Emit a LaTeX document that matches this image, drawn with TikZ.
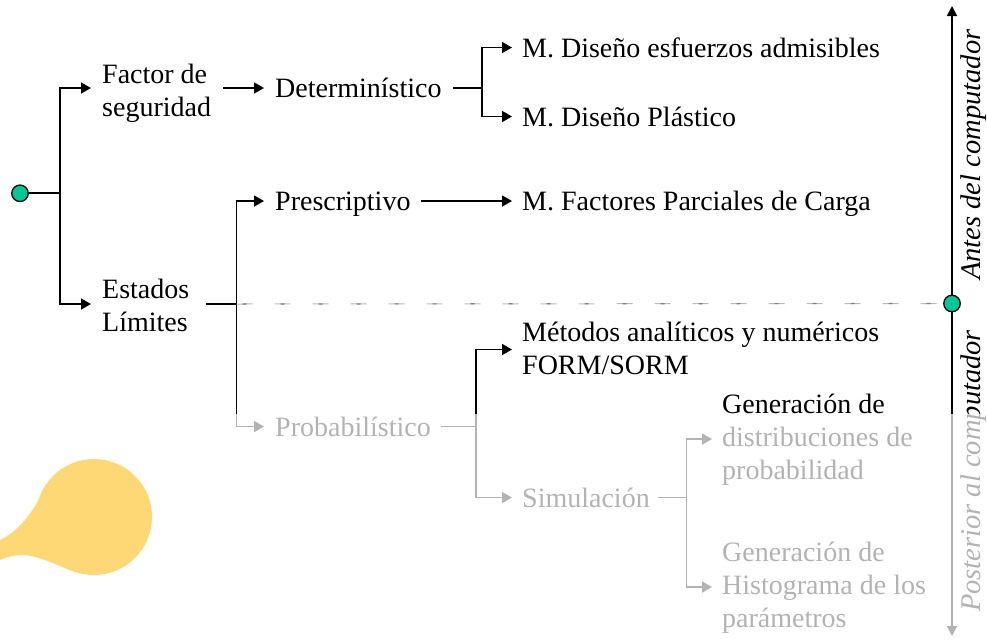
\documentclass[tikz,border=0pt]{standalone}
\usepackage{fontspec}
\setmainfont{Liberation Serif}
\usetikzlibrary{arrows.meta,calc}
\definecolor{dotgreen}{RGB}{0,200,150}
\definecolor{blobyellow}{RGB}{253,216,117}
\newcommand\mlines[1]{\begin{tabular}[t]{@{}l@{}}#1\end{tabular}}
\tikzset{
  lbl/.style={inner sep=0pt, anchor=base west, font=\fontsize{28}{33}\selectfont},
  axlbl/.style={inner sep=0pt, anchor=base west, rotate=90, font=\fontsize{28.5}{33}\selectfont\itshape},
  ln/.style={line width=1.8pt},
  arr/.style={line width=1.8pt, -{Triangle[length=10pt,width=11pt]}},
  gdot/.style={circle, draw, line width=1.3pt, fill=dotgreen, minimum size=16.5pt, inner sep=0pt},
}
\begin{document}
\begin{tikzpicture}[x=1pt,y=-1pt]
\useasboundingbox (0,0) rectangle (987,640);

% yellow blob
\fill[blobyellow] (94,517) circle[radius=58pt];
\fill[blobyellow] (0,540) .. controls (22,530) and (36,506) .. (45,488) -- (94,517) -- (75,572)
  .. controls (52,563) and (36,555) .. (22,555) .. controls (12,555) and (5,558) .. (0,560) -- cycle;

% text nodes
\node[lbl] (fs)   at (102,83)   {\mlines{Factor de\\seguridad}};
\node[lbl] (el)   at (102,298)  {\mlines{Estados\\Límites}};
\node[lbl] (det)  at (275,97.5) {Determinístico};
\node[lbl] (mdea) at (522,57)   {M. Diseño esfuerzos admisibles};
\node[lbl] (mdp)  at (522,126)  {M. Diseño Plástico};
\node[lbl] (pre)  at (275,210.5){Prescriptivo};
\node[lbl] (mfpc) at (522,210.5){M. Factores Parciales de Carga};
\node[lbl] (prob) at (275,436)  {Probabilístico};
\node[lbl] (met)  at (522,341.5){\mlines{Métodos analíticos y numéricos\\FORM/SORM}};
\node[lbl] (sim)  at (522,507)  {Simulación};
\node[lbl] (gen1) at (722,413)  {\mlines{Generación de\\distribuciones de\\probabilidad}};
\node[lbl] (gen2) at (722,561)  {\mlines{Generación de\\Histograma de los\\parámetros}};

% axis
\coordinate (axtop) at (952,6);
\coordinate (axbot) at (952,636);
\draw[line width=1.8pt, {Triangle[length=10pt,width=10pt]}-{Triangle[length=10pt,width=10pt]}] (axbot) -- (axtop);
\node[gdot] (root) at (20,193.3) {};
\node[gdot] (mid)  at (952,303.5) {};

\node[axlbl] (ant) at (980,280) {Antes del computador};
\node[axlbl] (pos) at (980,612) {Posterior al computador};

% junction coordinates
\coordinate (jA) at (60,193.3);
\coordinate (fsin) at ($(fs.base west)+(-11,5)$);
\coordinate (elin) at ($(el.base west)+(-11,6)$);
\coordinate (fsout) at ($(fs.base east)+(12,5)$);
\coordinate (detin) at ($(det.base west)+(-11,-9.5)$);
\coordinate (detout) at ($(det.base east)+(11,-9.5)$);
\coordinate (jB) at (482,88);
\coordinate (mdeain) at ($(mdea.base west)+(-10,-9.5)$);
\coordinate (mdpin) at ($(mdp.base west)+(-10,-9.5)$);
\coordinate (elout) at ($(el.base east)+(16,6)$);
\coordinate (jC) at (236.5,304);
\coordinate (prein) at ($(pre.base west)+(-11,-9.5)$);
\coordinate (preout) at ($(pre.base east)+(10,-9.5)$);
\coordinate (mfpcin) at ($(mfpc.base west)+(-10,-9.5)$);
\coordinate (probin) at ($(prob.base west)+(-11,-9.5)$);
\coordinate (probout) at ($(prob.base east)+(10.5,-9.5)$);
\coordinate (jD) at (476,426.5);
\coordinate (metin) at ($(met.base west)+(-10,8)$);
\coordinate (simin) at ($(sim.base west)+(-10,-9.5)$);
\coordinate (simout) at ($(sim.base east)+(8,-9.5)$);
\coordinate (jE) at (686.5,497.5);
\coordinate (gen1in) at ($(gen1.base west)+(-10,26)$);
\coordinate (gen2in) at ($(gen2.base west)+(-10,26)$);

% connectors
\draw[ln] (root) -- (jA);
\draw[arr] (jA) |- (fsin);
\draw[arr] (jA) |- (elin);
\draw[arr] (fsout) -- (detin);
\draw[ln] (detout) -- (jB);
\draw[arr] (jB) |- (mdeain);
\draw[arr] (jB) |- (mdpin);
\draw[ln] (elout) -- (jC);
\draw[arr] (jC) |- (prein);
\draw[arr] (jC) |- (probin);
\draw[arr] (preout) -- (mfpcin);
\draw[ln] (probout) -- (jD);
\draw[arr] (jD) |- (metin);
\draw[arr] (jD) |- (simin);
\draw[ln] (simout) -- (jE);
\draw[arr] (jE) |- (gen1in);
\draw[arr] (jE) |- (gen2in);

% dashed divider
\draw[gray!55, line width=1pt, dash pattern=on 16pt off 22pt] (jC) -- (mid.west);
\draw[gray, line width=1.2pt, dash pattern=on 0pt off 6pt on 4pt off 28pt] (jC) -- (mid.west);

% fading veil over the lower right part
\fill[white, opacity=0.7] (200,413.5) rectangle (987,640);
\end{tikzpicture}
\end{document}
